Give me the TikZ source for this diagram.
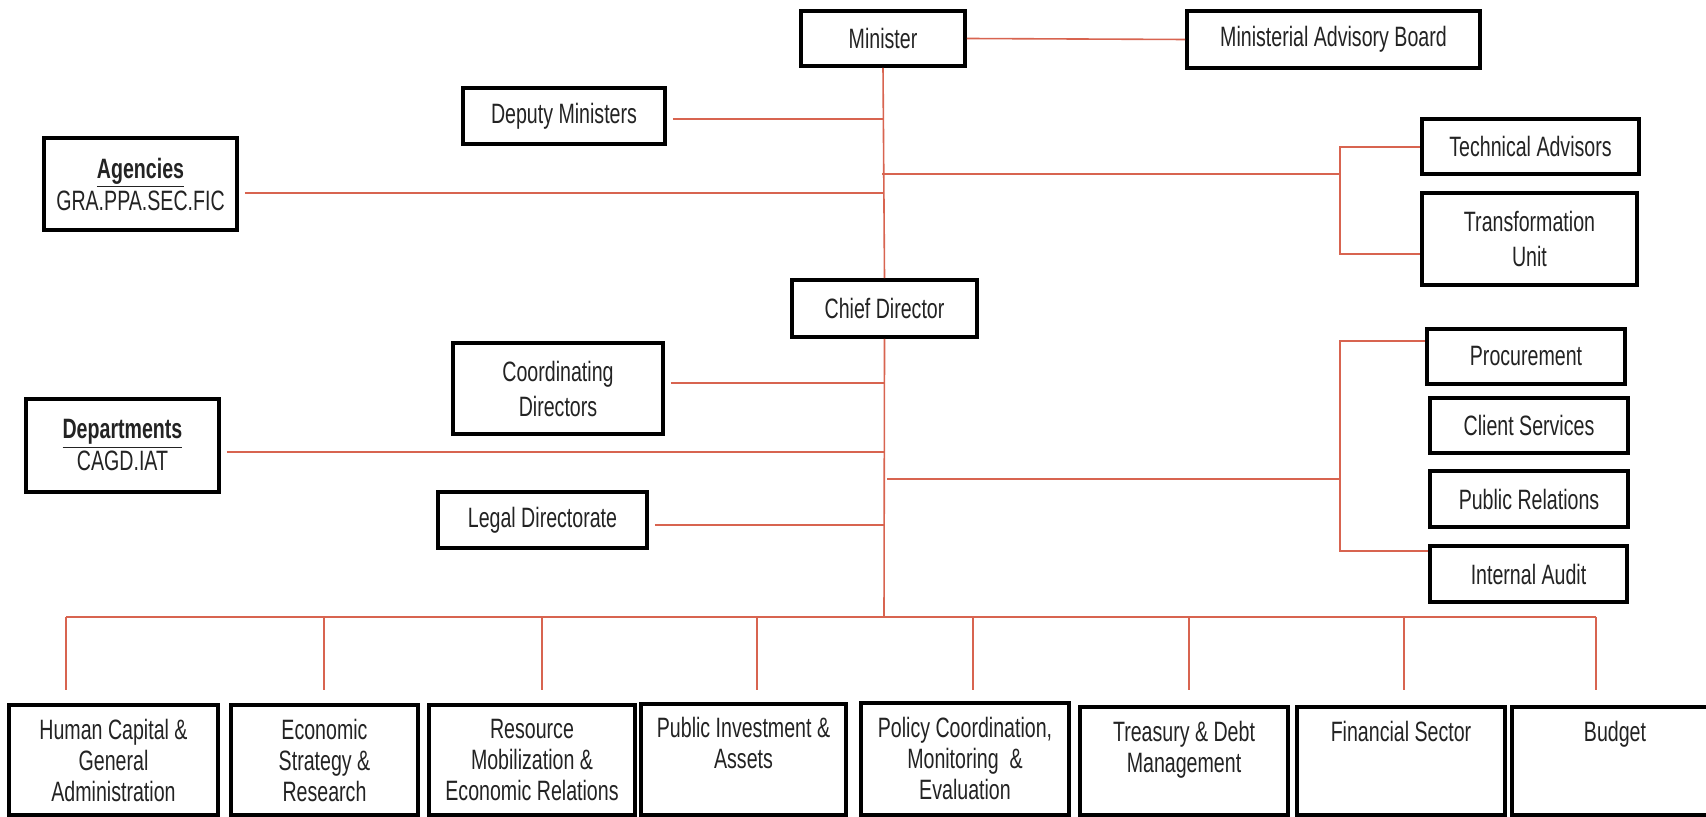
\documentclass[tikz,border=0pt]{standalone}
\usepackage{fontspec}
\setmainfont{Liberation Sans}[FakeStretch=0.70]
\definecolor{connc}{RGB}{216,100,80}
\definecolor{txt}{RGB}{35,35,35}
\begin{document}
\begin{tikzpicture}[x=0.5pt,y=-0.5pt,
  box/.style={draw=black, line width=1.8pt, fill=white, inner sep=0pt, align=center, text=txt,
    font=\fontsize{14}{17}\selectfont},
  lbl/.style={inner sep=0pt, align=center, text=txt, anchor=north,
    font=\fontsize{14}{15.5}\selectfont},
  conn/.style={draw=connc, line width=0.8pt},
  fromb/.style={conn, shorten <=3pt}]
\useasboundingbox (0,0) rectangle (1706,817);
\fill[white] (0,0) rectangle (1706,817);

% top level boxes
\node[box, minimum width=82pt, minimum height=27.5pt] (min) at (883,38.5) {Minister};
\node[box, minimum width=146.5pt, minimum height=28.5pt] (mab) at (1333.5,39.5) {Ministerial Advisory Board};
\node[box, minimum width=101pt, minimum height=28pt] (dep) at (564,116) {Deputy Ministers};
\node[box, minimum width=96.5pt, minimum height=46pt, font=\fontsize{14}{16}\selectfont] (agn) at (140.5,184) {\underline{\textbf{Agencies}}\\GRA.PPA.SEC.FIC};
\node[box, minimum width=108.5pt, minimum height=27.5pt] (tech) at (1530.5,146.5) {Technical Advisors};
\node[box, minimum width=107.5pt, minimum height=46pt, font=\fontsize{14}{17.5}\selectfont] (tu) at (1529.5,239) {Transformation\\Unit};
\node[box, minimum width=92.5pt, minimum height=28.5pt] (cd) at (884.5,308.5) {Chief Director};
\node[box, minimum width=105pt, minimum height=45.5pt, font=\fontsize{14}{17.5}\selectfont] (cod) at (558,388.5) {Coordinating\\Directors};
\node[box, minimum width=96.5pt, minimum height=46.5pt, font=\fontsize{14}{16}\selectfont] (dpt) at (122.5,445.5) {\underline{\textbf{Departments}}\\CAGD.IAT};
\node[box, minimum width=104.5pt, minimum height=28pt] (leg) at (542.5,520) {Legal Directorate};
\node[box, minimum width=99pt, minimum height=27.5pt] (proc) at (1526,356.5) {Procurement};
\node[box, minimum width=99pt, minimum height=27.5pt] (cs) at (1529,425.5) {Client Services};
\node[box, minimum width=99pt, minimum height=28pt] (pr) at (1529,499) {Public Relations};
\node[box, minimum width=98.5pt, minimum height=28pt] (ia) at (1528.5,574) {Internal Audit};

% bottom boxes
\node[box, minimum width=104.5pt, minimum height=55pt] (b1) at (113.5,760) {};
\node[box, minimum width=93.5pt, minimum height=55pt] (b2) at (324.5,760) {};
\node[box, minimum width=103pt, minimum height=55pt] (b3) at (532,760) {};
\node[box, minimum width=102.5pt, minimum height=55.5pt] (b4) at (743.5,759.5) {};
\node[box, minimum width=104pt, minimum height=56pt] (b5) at (965,759) {};
\node[box, minimum width=104pt, minimum height=54pt] (b6) at (1184,761) {};
\node[box, minimum width=104pt, minimum height=54pt] (b7) at (1401,761) {};
\node[box, minimum width=103pt, minimum height=54pt] (b8) at (1615,761) {};

\node[lbl] (t1) at (113.5,719) {Human Capital \&\\General\\Administration};
\node[lbl] (t2) at (324.5,719) {Economic\\Strategy \&\\Research};
\node[lbl] (t3) at (532,719) {Resource\\Mobilization \&\\Economic Relations};
\node[lbl] (t4) at (743.5,717) {Public Investment \&\\Assets};
\node[lbl] (t5) at (965,717) {Policy Coordination,\\Monitoring\ \ \&\\Evaluation};
\node[lbl] (t6) at (1184,721) {Treasury \& Debt\\Management};
\node[lbl] (t7) at (1401,721) {Financial Sector};
\node[lbl] (t8) at (1615,721) {Budget};

% upper spine
\draw[conn] (min.east) -- (mab.west);
\draw[conn] (min.south) -- (cd.north);
\coordinate (jdep) at (884,119);
\draw[fromb] (jdep -| dep.east) -- (jdep);
\coordinate (jagn) at (884,193);
\draw[fromb] (jagn -| agn.east) -- (jagn);
\coordinate (jtop) at (882,174);
\coordinate (bt1) at (1340,147);
\coordinate (bt2) at (1340,254);
\draw[conn] (jtop) -- (jtop -| bt1);
\draw[conn] (tech.west |- bt1) -- (bt1) -- (bt2) -- (tu.west |- bt2);

% lower spine
\coordinate (spineB) at (884,617);
\draw[conn] (cd.south) -- (spineB);
\coordinate (jcod) at (884,383);
\draw[fromb] (jcod -| cod.east) -- (jcod);
\coordinate (jdpt) at (884,452);
\draw[fromb] (jdpt -| dpt.east) -- (jdpt);
\coordinate (jleg) at (884,525);
\draw[fromb] (jleg -| leg.east) -- (jleg);
\coordinate (jr) at (887,479);
\coordinate (br1) at (1340,341);
\coordinate (br2) at (1340,551);
\draw[conn] (jr) -- (jr -| br1);
\draw[conn] (proc.west |- br1) -- (br1) -- (br2) -- (ia.west |- br2);

% bus
\coordinate (d1) at (66,690);
\coordinate (d2) at (324,690);
\coordinate (d3) at (542,690);
\coordinate (d4) at (757,690);
\coordinate (d5) at (973,690);
\coordinate (d6) at (1189,690);
\coordinate (d7) at (1404,690);
\coordinate (d8) at (1596,690);
\draw[conn] (d1 |- spineB) -- (d8 |- spineB);
\foreach \d in {d1,d2,d3,d4,d5,d6,d7,d8}{
  \draw[conn] (\d |- spineB) -- (\d);
}
\end{tikzpicture}
\end{document}
